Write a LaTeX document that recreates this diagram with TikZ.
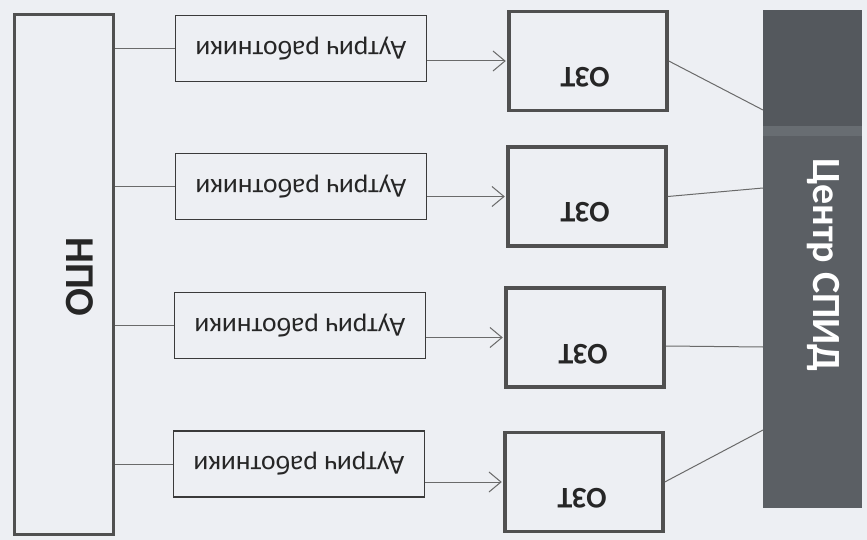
\documentclass[tikz,border=0pt]{standalone}
\usepackage{fontspec}
\setmainfont{Carlito}
\usepackage{graphicx}
\usetikzlibrary{arrows.meta,calc}
\definecolor{bg}{HTML}{EDEFF3}
\definecolor{dk}{HTML}{5B5F64}
\definecolor{dktop}{HTML}{54585D}
\definecolor{dkband}{HTML}{686D72}
\definecolor{bordA}{HTML}{3A3A3A}
\definecolor{bordB}{HTML}{505050}
\definecolor{lineg}{HTML}{6A6A6A}
\definecolor{txt}{HTML}{262626}
\tikzset{
  npobox/.style={draw=bordB, line width=3.5pt, minimum width=99pt, minimum height=520pt, inner sep=0pt},
  outbox/.style={draw=bordA, line width=1.3pt, minimum width=251pt, minimum height=66pt, inner sep=0pt,
                 text=txt, font=\fontsize{27.5}{29}\selectfont},
  oztbox/.style={draw=bordB, line width=3.5pt, minimum width=158pt, minimum height=99pt, inner sep=0pt},
  ozttext/.style={text=txt, font=\fontsize{30}{32}\selectfont\bfseries, inner sep=0pt},
  centbox/.style={fill=dk, minimum width=99pt, minimum height=498pt, inner sep=0pt},
  link/.style={draw=lineg, line width=1pt},
  arr/.style={draw=lineg, line width=1pt, -{Straight Barb[length=12pt,width=20pt,line width=1pt]}}
}
\begin{document}
\begin{tikzpicture}[x=1pt,y=-1pt]
\fill[bg] (0,0) rectangle (867,540);
\useasboundingbox (0,0) rectangle (867,540);

% left box
\node[npobox] (npo) at (64,274.5) {};
\node[text=txt, font=\fontsize{41}{43}\selectfont\bfseries, inner sep=0pt] (npot) at (80,277) {\rotatebox{-90}{НПО}};

% outreach boxes
\node[outbox] (a1) at (301,48.5) {\rotatebox{180}{Аутрич работники}};
\node[outbox] (a2) at (301,186.5) {\rotatebox{180}{Аутрич работники}};
\node[outbox] (a3) at (300,325.5) {\rotatebox{180}{Аутрич работники}};
\node[outbox] (a4) at (299,464) {\rotatebox{180}{Аутрич работники}};

% OZT boxes
\node[oztbox] (o1) at (588,61) {};
\node[oztbox] (o2) at (587,196.5) {};
\node[oztbox] (o3) at (585,337.5) {};
\node[oztbox] (o4) at (584,482) {};
\node[ozttext] (o1t) at (585,77) {\rotatebox{180}{ОЗТ}};
\node[ozttext] (o2t) at (585,212) {\rotatebox{180}{ОЗТ}};
\node[ozttext] (o3t) at (583,354) {\rotatebox{180}{ОЗТ}};
\node[ozttext] (o4t) at (582,498) {\rotatebox{180}{ОЗТ}};

% centre box
\node[centbox] (cz) at (812.5,259) {};
\fill[dktop] (cz.north west) rectangle ($(cz.north east)+(0,116)$);
\fill[dkband] ($(cz.north west)+(0,116)$) rectangle ($(cz.north east)+(0,126)$);
\node[text=white, font=\fontsize{40}{42}\selectfont\bfseries, inner sep=0pt] (czt) at (823,265) {\rotatebox{-90}{Центр СПИД}};

\coordinate (c1) at (763,110);
\coordinate (c2) at (763,188);
\coordinate (c3) at (763,347);
\coordinate (c4) at (763,430);

% NPO -> outreach
\foreach \i in {1,2,3,4} {
  \draw[link] (a\i.west -| npo.east) -- (a\i.west);
}
% outreach -> OZT
\foreach \i in {1,2,3,4} {
  \draw[arr] (o\i.west -| a\i.east) -- ([xshift=-1.5pt]o\i.west);
}
% OZT -> centre
\draw[link] (o1.east) -- (c1);
\draw[link] (o2.east) -- (c2);
\draw[link] ([yshift=-8.5pt]o3.east) -- (c3);
\draw[link] (o4.east) -- (c4);
\end{tikzpicture}
\end{document}
